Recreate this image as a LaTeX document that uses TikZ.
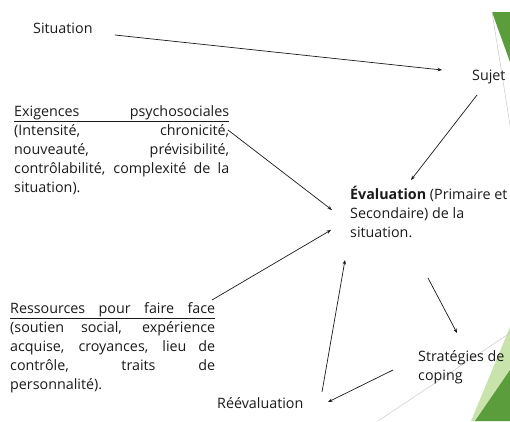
\documentclass[tikz,border=0pt]{standalone}
\usepackage{fontspec}
\setmainfont{Open Sans}
\usetikzlibrary{arrows.meta}
\definecolor{dkgreen}{HTML}{5B9C3C}
\definecolor{ltgreen}{HTML}{C8E3AC}
\definecolor{decogray}{HTML}{C8C8C8}
\definecolor{txt}{HTML}{1A1A1A}
\newcommand\jlA[1]{\makebox[215pt][s]{#1}}
\newcommand\jlB[1]{\makebox[205pt][s]{#1}}
\begin{document}
\begin{tikzpicture}[x=1pt,y=-1pt,
  lbl/.style={inner sep=0pt,text=txt,font=\fontsize{14.3}{19}\selectfont,align=left},
  arr/.style={-{Stealth[length=4.5pt,width=3.5pt]},line width=0.7pt,draw=txt}]
\useasboundingbox (0,0) rectangle (510,421);
% decorations
\fill[ltgreen] (510,327) -- (510,421) -- (471,421) -- cycle;
\fill[dkgreen] (510,370) -- (510,421) -- (475,421) -- cycle;
\draw[decogray,line width=0.5pt] (378,421) -- (510,333);
\fill[dkgreen] (492,12) -- (510,12) -- (510,62) -- cycle;
\draw[decogray,line width=0.5pt] (492,12) -- (510,125);
% nodes
\node[lbl,anchor=west] (sit) at (33,28) {Situation};
\node[lbl,anchor=west] (suj) at (472,77) {Sujet};
\node[lbl,anchor=north west] (exi) at (14,105) {\underline{\jlA{Exigences psychosociales}}\\
\jlA{(Intensité, chronicité,}\\
\jlA{nouveauté, prévisibilité,}\\
\jlA{contrôlabilité, complexité de la}\\
situation).};
\node[lbl,anchor=north west] (eva) at (350,186) {\textbf{Évaluation} (Primaire et\\Secondaire) de la\\situation.};
\node[lbl,anchor=north west] (res) at (10,302) {\underline{\jlB{Ressources pour faire face}}\\
\jlB{(soutien social, expérience}\\
\jlB{acquise, croyances, lieu de}\\
\jlB{contrôle, traits de}\\
personnalité).};
\node[lbl,anchor=north west] (str) at (418,350) {Stratégies de\\coping};
\node[lbl,anchor=west] (ree) at (217,403) {Réévaluation};
% connectors
\draw[arr] ([shift={(82,7)}]sit.west) -- ([shift={(-30,-7)}]suj.west);
\draw[arr] ([shift={(5,18)}]suj.west) -- ([shift={(61,-6)}]eva.north west);
\draw[arr] ([shift={(214,25)}]exi.north west) -- ([shift={(-18,24)}]eva.north west);
\draw[arr] ([shift={(202,-2)}]res.north west) -- ([shift={(-19,44)}]eva.north west);
\draw[arr] ([shift={(78,92)}]eva.north west) -- ([shift={(39,-17)}]str.north west);
\draw[arr] ([shift={(-25,20)}]str.north west) -- ([shift={(111,-1)}]ree.west);
\draw[arr] ([shift={(105,-11)}]ree.west) -- ([shift={(-5,74)}]eva.north west);
\end{tikzpicture}
\end{document}
